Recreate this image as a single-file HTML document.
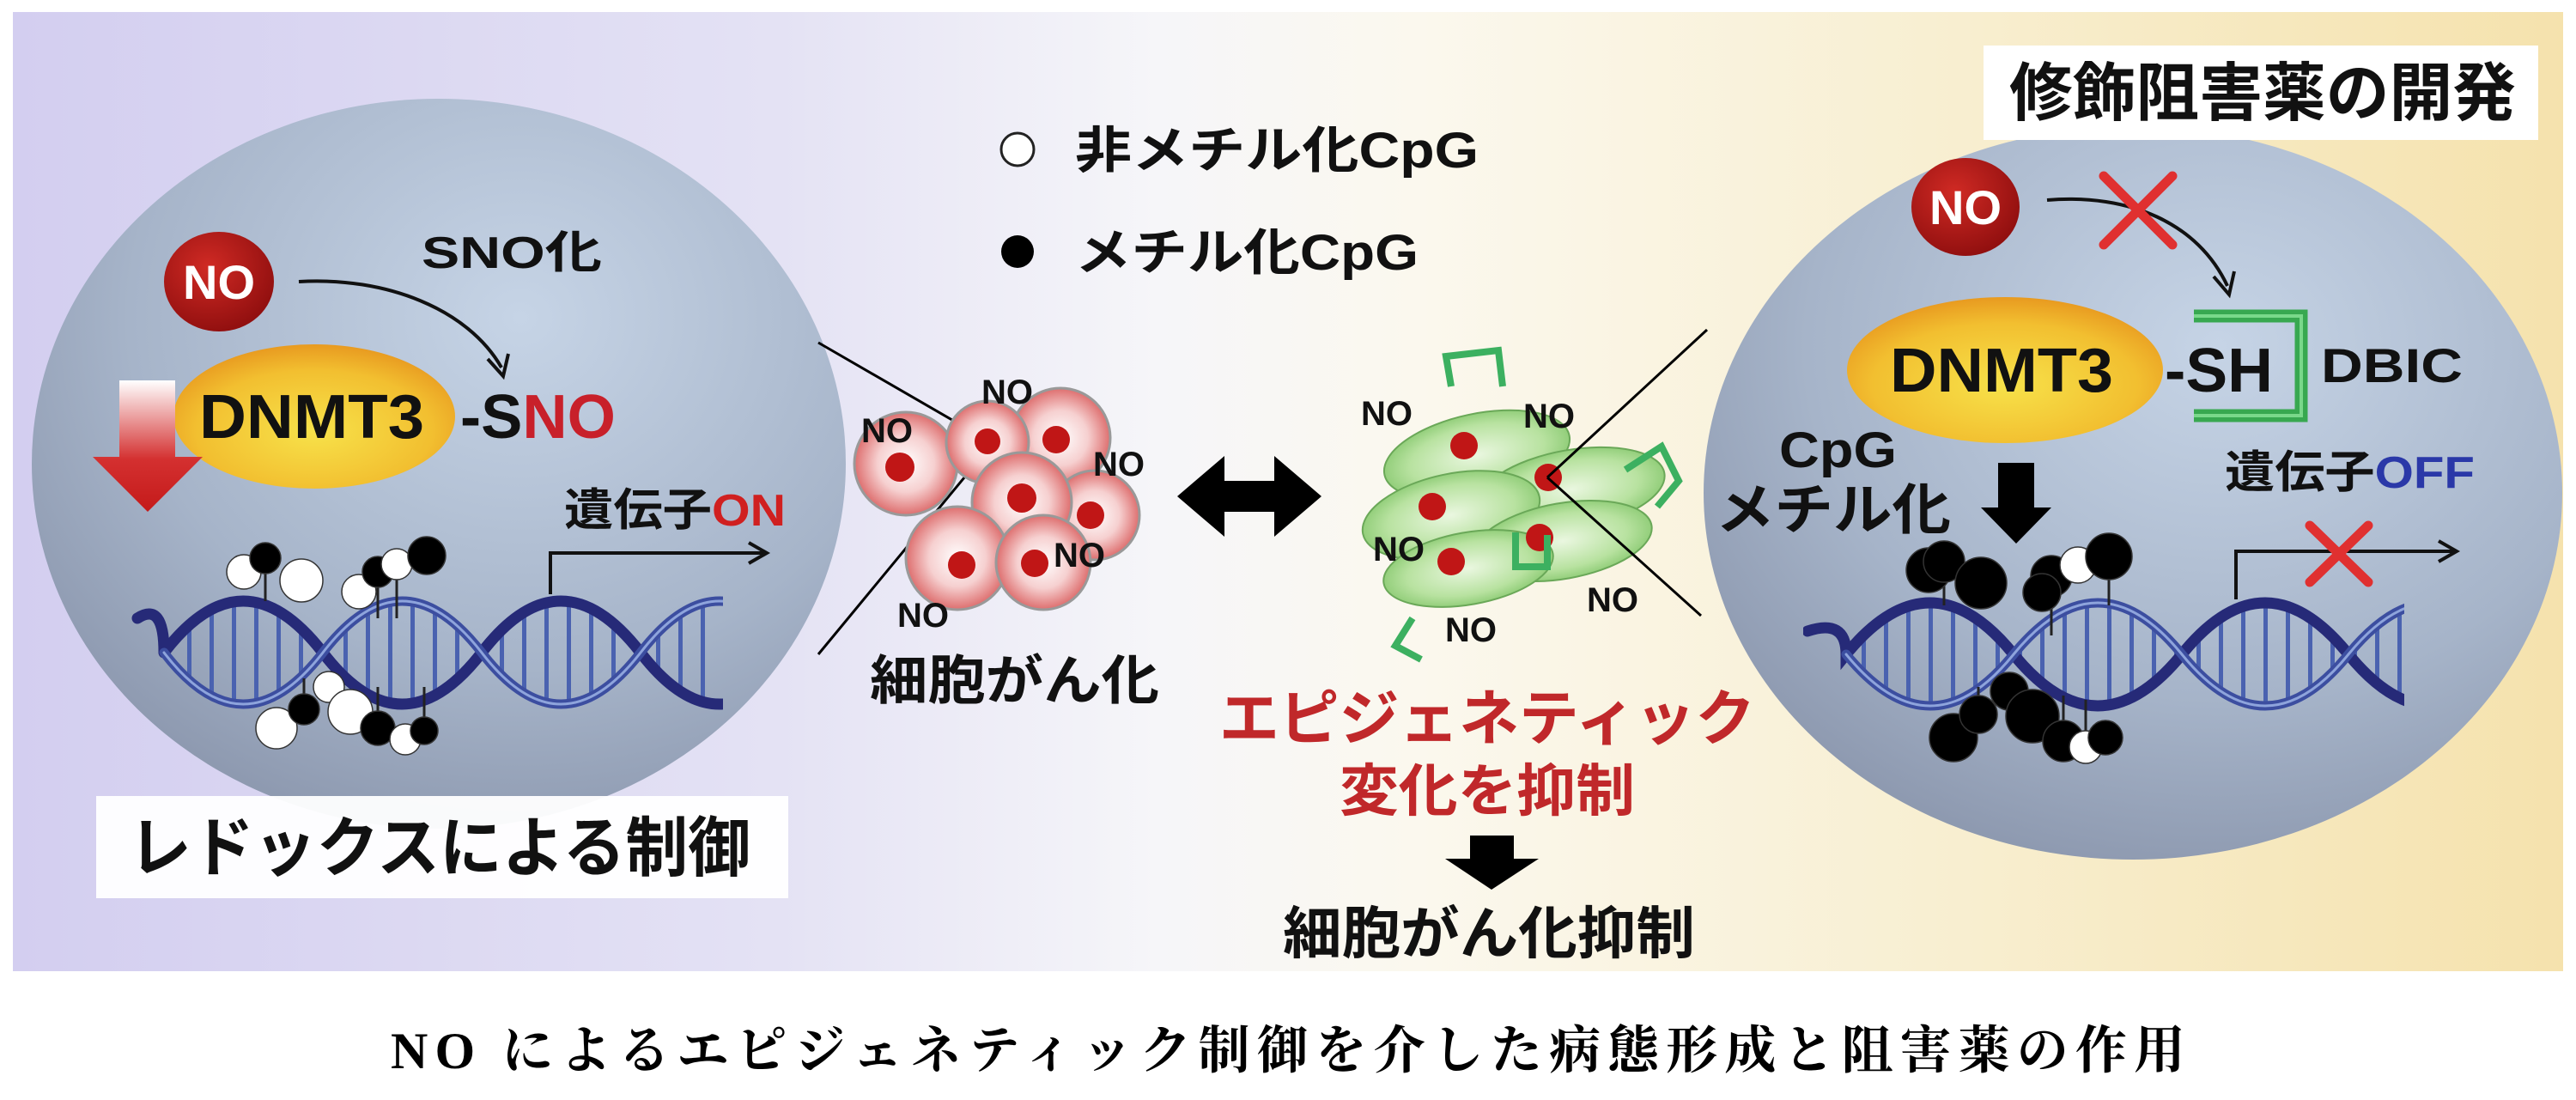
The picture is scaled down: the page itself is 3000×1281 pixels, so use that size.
<!DOCTYPE html>
<html><head><meta charset="utf-8"><style>
html,body{margin:0;padding:0;background:#fff;}
svg{display:block;}
text{font-family:"Liberation Sans","Noto Sans CJK JP",sans-serif;font-weight:bold;}
</style></head><body>
<svg width="3000" height="1281" viewBox="0 0 3000 1281" xmlns="http://www.w3.org/2000/svg">
<defs>
<linearGradient id="bg" x1="0" y1="0" x2="1" y2="0">
<stop offset="0" stop-color="#d3cef0"/><stop offset="0.3" stop-color="#e4e2f4"/>
<stop offset="0.45" stop-color="#f6f6f9"/><stop offset="0.55" stop-color="#fbf8ee"/>
<stop offset="0.75" stop-color="#f8efd2"/><stop offset="1" stop-color="#f5e2ad"/>
</linearGradient>
<radialGradient id="cell" cx="0.6" cy="0.3" r="0.8">
<stop offset="0" stop-color="#c6d4e6"/><stop offset="0.6" stop-color="#a6b4c9"/><stop offset="1" stop-color="#8691a8"/>
</radialGradient>
<radialGradient id="dn" cx="0.5" cy="0.6" r="0.6">
<stop offset="0" stop-color="#f7e24a"/><stop offset="0.7" stop-color="#f2bf30"/><stop offset="1" stop-color="#e89a20"/>
</radialGradient>
<radialGradient id="no" cx="0.4" cy="0.35" r="0.7">
<stop offset="0" stop-color="#d02a24"/><stop offset="1" stop-color="#8e0e0e"/>
</radialGradient>
<linearGradient id="ra" x1="0" y1="0" x2="0" y2="1">
<stop offset="0" stop-color="#ffffff"/><stop offset="0.6" stop-color="#d43030"/><stop offset="1" stop-color="#c41a1a"/>
</linearGradient>
<radialGradient id="rc" cx="0.5" cy="0.5" r="0.55">
<stop offset="0" stop-color="#fff"/><stop offset="0.5" stop-color="#f6d0d0"/><stop offset="1" stop-color="#d85858"/>
</radialGradient>
<radialGradient id="gc" cx="0.5" cy="0.5" r="0.6">
<stop offset="0" stop-color="#eaf7e0"/><stop offset="0.6" stop-color="#b8e2a0"/><stop offset="1" stop-color="#78c060"/>
</radialGradient>
<pattern id="rung" width="26" height="20" patternUnits="userSpaceOnUse">
<rect x="10" y="0" width="5" height="20" fill="#4a62b0"/>
</pattern>
</defs>

<rect x="15" y="14" width="2970" height="1117" fill="url(#bg)"/>

<ellipse cx="511" cy="540" rx="474" ry="425" fill="url(#cell)"/>
<line x1="953" y1="399" x2="1152" y2="514" stroke="#000" stroke-width="3"/>
<line x1="953" y1="762" x2="1152" y2="521" stroke="#000" stroke-width="3"/>

<ellipse cx="255" cy="328" rx="64" ry="58" fill="url(#no)"/>
<text x="255" y="348" font-size="56" fill="#fff" text-anchor="middle">NO</text>
<path d="M348,328 C450,322 545,360 584,428" fill="none" stroke="#111" stroke-width="4"/>
<path d="M568,418 L586,438 L592,412" fill="none" stroke="#111" stroke-width="4"/>
<text x="491" y="312" font-size="52" fill="#111" textLength="210" lengthAdjust="spacingAndGlyphs">SNO化</text>

<ellipse cx="366" cy="485" rx="164" ry="84" fill="url(#dn)"/>
<polygon points="139,443 204,443 204,532 236,532 172,596 108,532 139,532" fill="url(#ra)"/>
<text x="363" y="510" font-size="72" fill="#111" text-anchor="middle" textLength="262" lengthAdjust="spacingAndGlyphs">DNMT3</text>
<text x="536" y="510" font-size="72" fill="#111" textLength="181" lengthAdjust="spacingAndGlyphs">-S<tspan fill="#c8202a">NO</tspan></text>
<text x="657" y="612" font-size="52" fill="#111" textLength="258" lengthAdjust="spacingAndGlyphs">遺伝子<tspan fill="#d02020">ON</tspan></text>
<path d="M641,692 L641,644 L890,644" fill="none" stroke="#111" stroke-width="4"/>
<path d="M872,632 L893,644 L872,656" fill="none" stroke="#111" stroke-width="4"/>

<clipPath id="clipL"><rect x="150" y="600" width="692" height="300"/></clipPath>
<g clip-path="url(#clipL)">
<path d="M191,760 Q283,640 376,760 Q468,880 561,760 Q653,640 746,760 Q838,880 930,760 L930,760 Q838,640 746,760 Q653,880 561,760 Q468,640 376,760 Q283,880 191,760 Z" fill="url(#rung)" fill-rule="evenodd"/>
<g fill="none" stroke-linecap="round">
<path d="M160,720 Q191,700 191,760 M191,760 Q283,640 376,760 Q468,880 561,760 Q653,640 746,760 Q838,880 930,760" stroke="#262a78" stroke-width="13"/>
<path d="M191,760 Q283,880 376,760 Q468,640 561,760 Q653,880 746,760 Q838,640 930,760" stroke="#3c4ea0" stroke-width="11"/>
<path d="M191,760 Q283,880 376,760 Q468,640 561,760 Q653,880 746,760 Q838,640 930,760" stroke="#8ea4dc" stroke-width="3"/>
</g>
</g>
<g stroke="#222" stroke-width="3">
<line x1="309" y1="650" x2="309" y2="700"/><line x1="440" y1="666" x2="440" y2="720"/><line x1="462" y1="657" x2="462" y2="720"/>
<line x1="354" y1="826" x2="354" y2="790"/><line x1="440" y1="848" x2="440" y2="800"/><line x1="494" y1="851" x2="494" y2="800"/>
</g>
<g stroke="#333" stroke-width="1.5">
<circle cx="284" cy="666" r="20" fill="#fff"/><circle cx="309" cy="650" r="18" fill="#000"/>
<circle cx="351" cy="676" r="25" fill="#fff"/><circle cx="418" cy="689" r="20" fill="#fff"/>
<circle cx="440" cy="666" r="18" fill="#000"/><circle cx="462" cy="657" r="18" fill="#fff"/>
<circle cx="497" cy="647" r="22" fill="#000"/>
<circle cx="322" cy="848" r="24" fill="#fff"/><circle cx="354" cy="826" r="18" fill="#000"/>
<circle cx="383" cy="800" r="18" fill="#fff"/><circle cx="408" cy="829" r="26" fill="#fff"/>
<circle cx="440" cy="848" r="20" fill="#000"/><circle cx="472" cy="861" r="18" fill="#fff"/>
<circle cx="494" cy="851" r="16" fill="#000"/>
</g>

<rect x="112" y="927" width="806" height="119" fill="#fff" fill-opacity="0.95"/>
<text x="150" y="1014" font-size="76" fill="#111" textLength="724" lengthAdjust="spacingAndGlyphs">レドックスによる制御</text>

<circle cx="1185" cy="174" r="19" fill="#fff" stroke="#222" stroke-width="3"/>
<text x="1252" y="195" font-size="58" fill="#111" textLength="470" lengthAdjust="spacingAndGlyphs">非メチル化CpG</text>
<circle cx="1185" cy="293" r="19" fill="#000"/>
<text x="1252" y="314" font-size="58" fill="#111" textLength="400" lengthAdjust="spacingAndGlyphs">メチル化CpG</text>

<g stroke="#999" stroke-width="3">
<circle cx="1055" cy="540" r="60" fill="url(#rc)"/>
<circle cx="1235" cy="510" r="58" fill="url(#rc)"/>
<circle cx="1150" cy="515" r="48" fill="url(#rc)"/>
<circle cx="1275" cy="600" r="52" fill="url(#rc)"/>
<circle cx="1190" cy="585" r="58" fill="url(#rc)"/>
<circle cx="1115" cy="650" r="60" fill="url(#rc)"/>
<circle cx="1215" cy="655" r="55" fill="url(#rc)"/>
</g>
<g fill="#c01616">
<circle cx="1048" cy="544" r="17"/><circle cx="1150" cy="514" r="15"/><circle cx="1230" cy="512" r="16"/>
<circle cx="1190" cy="580" r="17"/><circle cx="1270" cy="600" r="16"/><circle cx="1120" cy="658" r="16"/><circle cx="1205" cy="656" r="16"/>
</g>
<g font-size="40" fill="#111" font-weight="normal">
<text x="1003" y="515">NO</text><text x="1143" y="470">NO</text><text x="1273" y="554">NO</text>
<text x="1227" y="660">NO</text><text x="1045" y="730">NO</text>
</g>
<text x="1013" y="814" font-size="62" fill="#111" textLength="337" lengthAdjust="spacingAndGlyphs">細胞がん化</text>

<polygon points="1371,578 1426,531 1426,560 1484,560 1484,531 1539,578 1484,625 1484,596 1426,596 1426,625" fill="#000"/>

<g stroke="#6aa858" stroke-width="2">
<ellipse cx="1720" cy="530" rx="110" ry="48" transform="rotate(-12 1720 530)" fill="url(#gc)"/>
<ellipse cx="1830" cy="570" rx="110" ry="46" transform="rotate(-10 1830 570)" fill="url(#gc)"/>
<ellipse cx="1690" cy="600" rx="105" ry="48" transform="rotate(-12 1690 600)" fill="url(#gc)"/>
<ellipse cx="1820" cy="630" rx="105" ry="44" transform="rotate(-10 1820 630)" fill="url(#gc)"/>
<ellipse cx="1710" cy="662" rx="100" ry="42" transform="rotate(-10 1710 662)" fill="url(#gc)"/>
</g>
<g fill="#c01616">
<circle cx="1705" cy="519" r="16"/><circle cx="1803" cy="556" r="16"/><circle cx="1668" cy="590" r="16"/>
<circle cx="1793" cy="626" r="16"/><circle cx="1690" cy="654" r="16"/>
</g>
<g fill="none" stroke="#3cb060" stroke-width="8">
<polyline points="1690,450 1684,415 1745,408 1750,450"/>
<polyline points="1893,547 1935,520 1955,560 1930,590"/>
<polyline points="1645,720 1625,752 1655,768"/>
<polyline points="1765,620 1765,660 1802,660 1802,623"/>
</g>
<line x1="1802" y1="556" x2="1988" y2="384" stroke="#000" stroke-width="3"/>
<line x1="1802" y1="556" x2="1981" y2="717" stroke="#000" stroke-width="3"/>
<g font-size="40" fill="#111" font-weight="normal">
<text x="1585" y="495">NO</text><text x="1774" y="498">NO</text><text x="1599" y="653">NO</text>
<text x="1848" y="712">NO</text><text x="1683" y="747">NO</text>
</g>

<text x="1420" y="861" font-size="70" fill="#c0282a" textLength="624" lengthAdjust="spacingAndGlyphs">エピジェネティック</text>
<text x="1560" y="944" font-size="66" fill="#c0282a" textLength="344" lengthAdjust="spacingAndGlyphs">変化を抑制</text>
<polygon points="1712,973 1763,973 1763,1000 1792,1000 1737,1036 1683,1000 1712,1000" fill="#000"/>
<text x="1494" y="1110" font-size="66" fill="#111" textLength="480" lengthAdjust="spacingAndGlyphs">細胞がん化抑制</text>

<ellipse cx="2484" cy="574" rx="500" ry="427" fill="url(#cell)"/>
<rect x="2310" y="53" width="646" height="110" fill="#fff"/>
<text x="2340" y="134" font-size="74" fill="#111" textLength="590" lengthAdjust="spacingAndGlyphs">修飾阻害薬の開発</text>

<ellipse cx="2289" cy="241" rx="63" ry="57" fill="url(#no)"/>
<text x="2289" y="261" font-size="56" fill="#fff" text-anchor="middle">NO</text>
<path d="M2384,233 C2480,225 2560,260 2594,333" fill="none" stroke="#111" stroke-width="4"/>
<path d="M2578,322 L2596,343 L2602,316" fill="none" stroke="#111" stroke-width="4"/>
<g stroke="#e03030" stroke-width="11" stroke-linecap="round">
<line x1="2450" y1="205" x2="2530" y2="285"/><line x1="2530" y1="205" x2="2450" y2="285"/>
</g>

<ellipse cx="2335" cy="431" rx="184" ry="85" fill="url(#dn)"/>
<text x="2331" y="456" font-size="72" fill="#111" text-anchor="middle" textLength="260" lengthAdjust="spacingAndGlyphs">DNMT3</text>
<text x="2521" y="456" font-size="72" fill="#111" textLength="126" lengthAdjust="spacingAndGlyphs">-SH</text>
<polyline points="2555,368 2680,368 2680,484 2555,484" fill="none" stroke="#38a850" stroke-width="15"/>
<polyline points="2555,368 2680,368 2680,484 2555,484" fill="none" stroke="#7ad88a" stroke-width="4"/>
<text x="2703" y="445" font-size="56" fill="#111" textLength="165" lengthAdjust="spacingAndGlyphs">DBIC</text>

<text x="2072" y="544" font-size="58" fill="#111" textLength="137" lengthAdjust="spacingAndGlyphs">CpG</text>
<text x="1998" y="616" font-size="64" fill="#111" textLength="274" lengthAdjust="spacingAndGlyphs">メチル化</text>
<polygon points="2327,539 2369,539 2369,591 2389,591 2348,633 2307,591 2327,591" fill="#000"/>
<text x="2591" y="568" font-size="52" fill="#111" textLength="291" lengthAdjust="spacingAndGlyphs">遺伝子<tspan fill="#2a38a8">OFF</tspan></text>
<path d="M2604,698 L2604,642 L2858,642" fill="none" stroke="#111" stroke-width="4"/>
<path d="M2840,630 L2861,642 L2840,654" fill="none" stroke="#111" stroke-width="4"/>
<g stroke="#e03030" stroke-width="11" stroke-linecap="round">
<line x1="2690" y1="612" x2="2758" y2="678"/><line x1="2758" y1="612" x2="2690" y2="678"/>
</g>

<clipPath id="clipR"><rect x="2100" y="600" width="700" height="300"/></clipPath>
<g clip-path="url(#clipR)">
<path d="M2150,762 Q2248,642 2345,762 Q2443,882 2541,762 Q2638,642 2735,762 Q2833,882 2930,762 Q2833,642 2735,762 Q2638,882 2541,762 Q2443,642 2345,762 Q2248,882 2150,762 Z" fill="url(#rung)" fill-rule="evenodd"/>
<g fill="none" stroke-linecap="round">
<path d="M2105,735 Q2150,720 2150,762 Q2248,642 2345,762 Q2443,882 2541,762 Q2638,642 2735,762 Q2833,882 2930,762" stroke="#262a78" stroke-width="13"/>
<path d="M2150,762 Q2248,882 2345,762 Q2443,642 2541,762 Q2638,882 2735,762 Q2833,642 2930,762" stroke="#3c4ea0" stroke-width="11"/>
<path d="M2150,762 Q2248,882 2345,762 Q2443,642 2541,762 Q2638,882 2735,762 Q2833,642 2930,762" stroke="#8ea4dc" stroke-width="3"/>
</g>
</g>
<g stroke="#222" stroke-width="3">
<line x1="2264" y1="654" x2="2264" y2="705"/><line x1="2389" y1="671" x2="2389" y2="740"/><line x1="2456" y1="648" x2="2456" y2="705"/>
<line x1="2304" y1="832" x2="2304" y2="800"/><line x1="2403" y1="863" x2="2403" y2="810"/><line x1="2429" y1="870" x2="2429" y2="815"/>
</g>
<g stroke="#333" stroke-width="1.5">
<circle cx="2246" cy="664" r="26" fill="#000"/><circle cx="2264" cy="654" r="24" fill="#000"/>
<circle cx="2307" cy="679" r="30" fill="#000"/><circle cx="2389" cy="671" r="24" fill="#000"/>
<circle cx="2378" cy="690" r="22" fill="#000"/><circle cx="2420" cy="658" r="21" fill="#fff"/>
<circle cx="2456" cy="648" r="27" fill="#000"/>
<circle cx="2275" cy="859" r="28" fill="#000"/><circle cx="2304" cy="832" r="22" fill="#000"/>
<circle cx="2340" cy="805" r="22" fill="#000"/><circle cx="2367" cy="834" r="31" fill="#000"/>
<circle cx="2403" cy="863" r="24" fill="#000"/><circle cx="2429" cy="870" r="19" fill="#fff"/>
<circle cx="2452" cy="859" r="20" fill="#000"/>
</g>

<text x="455" y="1244" font-size="60" fill="#000" font-weight="normal" textLength="2090" lengthAdjust="spacing" style="font-family:'Liberation Serif','Noto Serif CJK SC',serif"><tspan font-weight="bold">NO</tspan> によるエピジェネティック制御を介した病態形成と阻害薬の作用</text>
</svg>
</body></html>
